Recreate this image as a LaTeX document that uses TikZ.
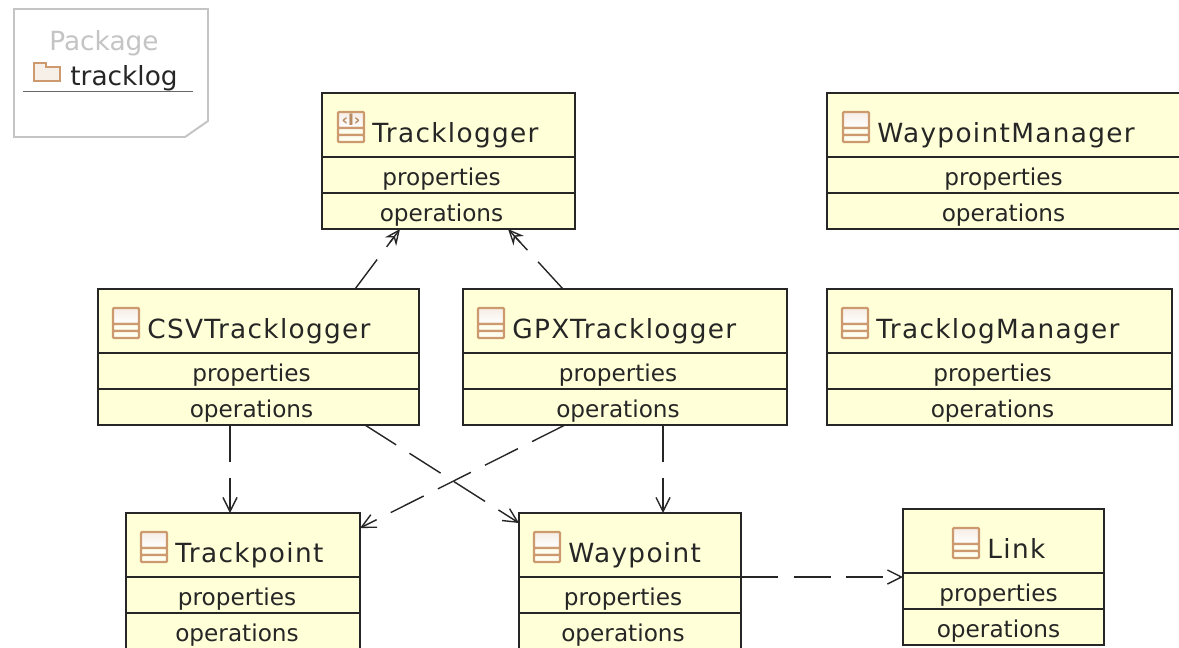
\documentclass[tikz,border=0pt]{standalone}
\usepackage{fontspec}
\setmainfont{DejaVu Sans}
\newfontfamily\titlefont[LetterSpace=5]{DejaVu Sans}
\usetikzlibrary{arrows.meta,calc}
\definecolor{classfill}{HTML}{FFFFD8}
\definecolor{iconline}{HTML}{CC9A6E}
\definecolor{notegray}{HTML}{C4C4C4}
\tikzset{
  classbox/.style={draw=black!85,line width=1.1pt,fill=classfill,rectangle,outer sep=0pt,inner sep=0pt,anchor=north west,minimum height=136*0.02cm},
  classrule/.style={draw=black!85,line width=1pt},
  titletext/.style={anchor=base west,inner sep=0pt,text=black!85,font=\titlefont\fontsize{15}{17}\selectfont},
  packagetext/.style={anchor=base west,inner sep=0pt,text=black!85,font=\fontsize{15}{17}\selectfont},
  membertext/.style={anchor=base,inner sep=0pt,text=black!85,font=\fontsize{13.2}{15}\selectfont},
  iconbox/.style={draw=iconline,line width=1.3pt,rounded corners=0.6pt},
  depline/.style={draw=black!85,line width=0.8pt,dash pattern=on 21pt off 9pt,-{Straight Barb[length=8pt,width=8pt]}},
  genline/.style={draw=black!85,line width=0.8pt,dash pattern=on 21pt off 9pt,-{Stealth[open,length=9pt,width=8pt,inset=3pt]}},
  genstem/.style={draw=black!85,line width=0.8pt}
}
% id, left, top, width, icon offset, member offset, title
\newcommand{\classnode}[7]{
\node[classbox,minimum width=#4*0.02cm] (#1) at (#2,#3) {};
\draw[classrule] ($(#1.north west)+(0,64)$)--($(#1.north east)+(0,64)$);
\draw[classrule] ($(#1.north west)+(0,100)$)--($(#1.north east)+(0,100)$);
\coordinate (#1icon) at ($(#1.north west)+(#5,19)$);
\node[titletext] (#1title) at ($(#1icon)+(34,30)$) {#7};
\node[membertext] (#1props) at ($(#1.north)+(#6,92)$) {properties};
\node[membertext] (#1ops) at ($(#1.north)+(#6,128)$) {operations};
\begin{scope}[shift={(#1icon)}]
\draw[iconbox,top color=iconline!18!white,bottom color=white] (0,0) rectangle (26,16);
\draw[iconbox,fill=white!60!classfill] (0,16) rectangle (26,23);
\draw[iconbox,fill=white!60!classfill] (0,23) rectangle (26,30);
\end{scope}
}
\newcommand{\genlink}[2]{
\draw[genline] #1--#2;
\draw[genstem] ($#1!0.78!#2$)--($#1!0.97!#2$);
}
\begin{document}
\begin{tikzpicture}[x=0.02cm,y=-0.02cm]
\useasboundingbox (0,0) rectangle (1179,647);
\clip (0,0) rectangle (1179,647);
\fill[white] (0,0) rectangle (1179,647);
\draw[notegray,line width=1.1pt,fill=white] (14,9)--(208,9)--(208,121)--(185,137)--(14,137)--cycle;
\node[packagetext,text=notegray] (packagelabel) at (49,50) {Package};
\node[packagetext] (packagename) at (70,85) {tracklog};
\draw[black!60,line width=0.5pt] (23,91)--(193,91);
\draw[iconline,line width=1.1pt,fill=iconline!15!white] (34,67)--(34,63)--(46,63)--(46,67)--(60,67)--(60,81)--(34,81)--cycle;
\classnode{tracklogger}{322}{93}{253}{16}{-7}{Tracklogger}
\classnode{waypointmanager}{827}{93}{370}{16}{-8.5}{WaypointManager}
\classnode{csvtracklogger}{98}{289}{321}{15}{-7}{CSVTracklogger}
\classnode{gpxtracklogger}{463}{289}{324}{15}{-7}{GPXTracklogger}
\classnode{tracklogmanager}{827}{289}{345}{15}{-7}{TracklogManager}
\classnode{trackpoint}{126}{513}{234}{15}{-6}{Trackpoint}
\classnode{waypoint}{519}{513}{222}{15}{-7}{Waypoint}
\classnode{link}{903}{509}{201}{50}{-5}{Link}
\node[inner sep=0pt,text=iconline!90!black,font=\bfseries\fontsize{9}{9}\selectfont] (interfacemark) at ($(trackloggericon)+(13,8)$) {‹I›};
\genlink{($(csvtracklogger.north)+(96.5,0)$)}{($(tracklogger.south)+(-48.5,0)$)}
\genlink{($(gpxtracklogger.north)+(-62,0)$)}{($(tracklogger.south)+(59.5,0)$)}
\draw[depline] ($(csvtracklogger.south)+(-28.5,0)$)--($(trackpoint.north)+(-13,0)$);
\draw[depline] ($(csvtracklogger.south)+(106.5,0)$)--($(waypoint.north west)+(0,10)$);
\draw[depline] ($(gpxtracklogger.south)+(-60,0)$)--($(trackpoint.north east)+(0,15)$);
\draw[depline] ($(gpxtracklogger.south)+(38,0)$)--($(waypoint.north)+(33,0)$);
\draw[depline] ($(waypoint.north east)+(0,64)$)--($(link.north west)+(0,68)$);
\end{tikzpicture}
\end{document}
